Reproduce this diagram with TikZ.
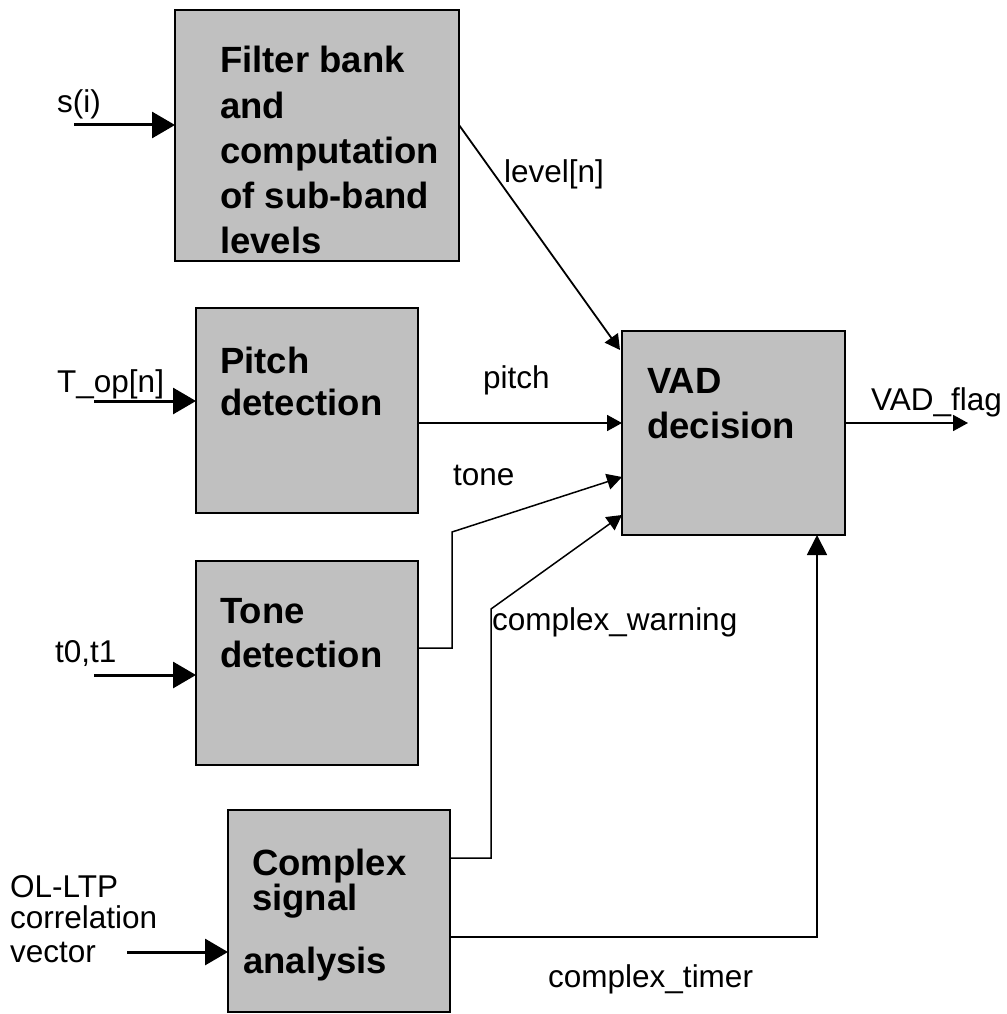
\documentclass[tikz,border=0pt]{standalone}
\usepackage{fontspec}
\setmainfont{Liberation Sans}
\usetikzlibrary{arrows.meta}
\begin{document}
\begin{tikzpicture}[x=1pt,y=-1pt,
  blk/.style={draw=black,line width=2pt,fill={rgb,255:red,192;green,192;blue,192},inner sep=0pt,outer sep=0pt},
  btxt/.style={anchor=base west,inner sep=0pt,font=\fontsize{36.5}{44}\selectfont\bfseries},
  ltxt/.style={anchor=base west,inner sep=0pt,font=\fontsize{31.5}{36}\selectfont},
  inarr/.style={line width=3pt,-{Triangle[length=23pt,width=26pt]}},
  conn/.style={line width=1.8pt,-{Triangle[length=15pt,width=16pt]}},
  thin/.style={line width=1.5pt,-{Triangle[length=15pt,width=16pt]}}
]
\useasboundingbox (0,0) rectangle (1006,1014);

% blocks
\node[blk,minimum width=284pt,minimum height=251pt] (filt) at (317,135.5) {};
\node[blk,minimum width=222pt,minimum height=205pt] (pitch) at (307,410.5) {};
\node[blk,minimum width=222pt,minimum height=204pt] (tone) at (307,663) {};
\node[blk,minimum width=222pt,minimum height=202pt] (cplx) at (339,911) {};
\node[blk,minimum width=223pt,minimum height=204pt] (vad) at (733.5,433) {};

% block texts
\node[btxt] (f1) at (220,73) {Filter bank};
\node[btxt] (f2) at (220,118) {and};
\node[btxt] (f3) at (220,163) {computation};
\node[btxt] (f4) at (220,208) {of sub-band};
\node[btxt] (f5) at (220,253) {levels};
\node[btxt] (p1) at (220,373) {Pitch};
\node[btxt] (p2) at (220,415) {detection};
\node[btxt] (t1) at (220,623) {Tone};
\node[btxt] (t2) at (220,667) {detection};
\node[btxt] (v1) at (647,393) {VAD};
\node[btxt] (v2) at (647,438) {decision};
\node[btxt] (c1) at (252,875) {Complex};
\node[btxt] (c2) at (252,910) {signal};
\node[btxt] (c3) at (243,973) {analysis};

% labels
\node[ltxt] (lsi) at (57,113) {s(i)};
\node[ltxt] (llev) at (504,182) {level[n]};
\node[ltxt] (ltop) at (57,392) {T\_op[n]};
\node[ltxt] (lpitch) at (483,388) {pitch};
\node[ltxt] (ltone) at (453,485) {tone};
\node[ltxt] (lflag) at (871,410) {VAD\_flag};
\node[ltxt] (lwarn) at (492,630) {complex\_warning};
\node[ltxt] (lt01) at (55,662) {t0,t1};
\node[ltxt] (lol1) at (10,897) {OL-LTP};
\node[ltxt] (lol2) at (10,928) {correlation};
\node[ltxt] (lol3) at (10,962) {vector};
\node[ltxt] (ltimer) at (548,987) {complex\_timer};

% free ends and bends
\coordinate (si) at (74,125);
\coordinate (top) at (94,401);
\coordinate (t01) at (94,675);
\coordinate (ol) at (127,952);
\coordinate (flag) at (968,423);
\coordinate (lvin) at (620,350);
\coordinate (tb1) at (452,648);
\coordinate (tb2) at (452,532);
\coordinate (tin) at (0,477);
\coordinate (wb1) at (491,858);
\coordinate (wb2) at (491,609);
\coordinate (win) at (0,515);
\coordinate (tmb) at (817,937);

% inputs
\draw[inarr] (si) -- (filt.west |- si);
\draw[inarr] (top) -- (pitch.west |- top);
\draw[inarr] (t01) -- (tone.west |- t01);
\draw[inarr] (ol) -- (cplx.west |- ol);

% internal connectors
\draw[conn] (filt.east |- si) -- (lvin);
\draw[conn] (pitch.east |- 0,423) -- (vad.west |- 0,423);
\draw[thin] (tone.east |- tb1) -- (tb1) -- (tb2) -- (vad.west |- tin);
\draw[thin] (cplx.east |- wb1) -- (wb1) -- (wb2) -- (vad.west |- win);
\draw[line width=1.8pt,-{Triangle[length=20pt,width=20pt]}] (cplx.east |- tmb) -- (tmb) -- (vad.south -| tmb);
\draw[conn] (vad.east |- flag) -- (flag);
\end{tikzpicture}
\end{document}
